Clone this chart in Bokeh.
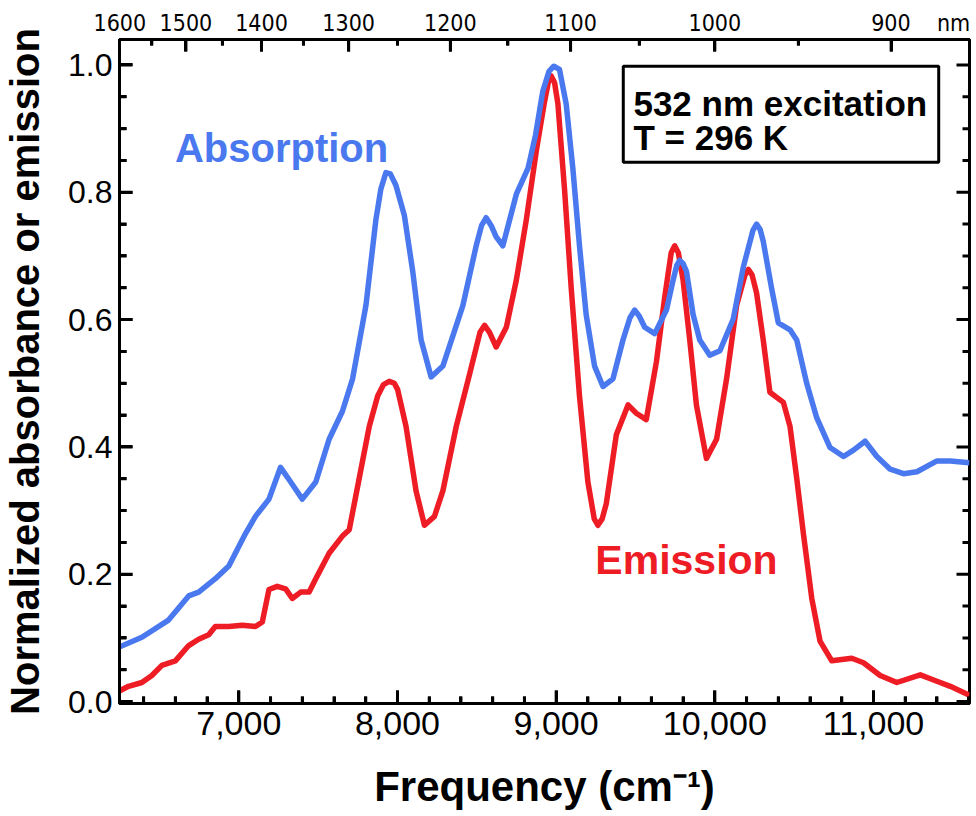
from bokeh.plotting import figure
from bokeh.models import (LinearAxis, FixedTicker, NumeralTickFormatter, CustomJSTickFormatter,
                          Range1d, Label, BoxAnnotation, SingleIntervalTicker, ColumnDataSource)
from bokeh.embed import file_html
from bokeh.resources import INLINE

# ---- data ----
abs_freq = [6250, 6389, 6557, 6684, 6747, 6852, 6937, 7042, 7105, 7190, 7263, 7327, 7400,
            7485, 7569, 7653, 7717, 7801, 7864, 7895, 7927, 7955, 7990, 8043, 8096, 8149,
            8212, 8286, 8412, 8496, 8530, 8559, 8590, 8622, 8664, 8749, 8823, 8870, 8916,
            8955, 8985, 9021, 9063, 9105, 9147, 9189, 9242, 9295, 9358, 9421, 9465, 9495,
            9525, 9558, 9621, 9695, 9737, 9760, 9779, 9800, 9821, 9863, 9905, 9968, 10032,
            10116, 10179, 10240, 10263, 10285, 10305, 10358, 10400, 10474, 10516, 10579,
            10642, 10726, 10811, 10874, 10947, 11021, 11105, 11189, 11274, 11400, 11484, 11605]
abs_val = [0.086, 0.101, 0.128, 0.166, 0.172, 0.193, 0.213, 0.264, 0.291, 0.318, 0.368, 0.345,
           0.318, 0.345, 0.412, 0.456, 0.507, 0.622, 0.757, 0.805, 0.831, 0.829, 0.811, 0.764,
           0.676, 0.568, 0.510, 0.527, 0.622, 0.716, 0.748, 0.760, 0.748, 0.730, 0.716, 0.797,
           0.838, 0.890, 0.959, 0.990, 0.998, 0.993, 0.939, 0.838, 0.716, 0.608, 0.527, 0.495,
           0.507, 0.568, 0.603, 0.615, 0.605, 0.588, 0.578, 0.615, 0.662, 0.685, 0.693, 0.688,
           0.676, 0.608, 0.568, 0.544, 0.551, 0.601, 0.682, 0.740, 0.750, 0.742, 0.723, 0.649,
           0.595, 0.584, 0.568, 0.500, 0.446, 0.399, 0.385, 0.395, 0.409, 0.385, 0.365, 0.358,
           0.361, 0.378, 0.378, 0.375]

emi_freq = [6250, 6305, 6389, 6452, 6515, 6600, 6684, 6747, 6810, 6852, 6937, 7021, 7105,
            7148, 7190, 7242, 7295, 7337, 7390, 7443, 7485, 7569, 7653, 7696, 7759, 7822,
            7875, 7912, 7948, 7980, 8001, 8054, 8117, 8170, 8233, 8286, 8370, 8454, 8520,
            8549, 8580, 8622, 8686, 8749, 8812, 8875, 8925, 8950, 8968, 8990, 9011, 9053,
            9095, 9147, 9200, 9240, 9263, 9290, 9316, 9379, 9453, 9505, 9568, 9632, 9684,
            9725, 9747, 9770, 9800, 9842, 9884, 9947, 10011, 10074, 10137, 10190, 10211,
            10235, 10263, 10305, 10347, 10432, 10474, 10516, 10558, 10611, 10663, 10737,
            10863, 10937, 11042, 11147, 11295, 11379, 11484, 11605]
emi_val = [0.017, 0.024, 0.030, 0.041, 0.057, 0.064, 0.088, 0.098, 0.105, 0.118, 0.118, 0.120,
           0.118, 0.125, 0.176, 0.181, 0.177, 0.162, 0.172, 0.172, 0.193, 0.233, 0.260, 0.270,
           0.351, 0.432, 0.480, 0.498, 0.503, 0.500, 0.490, 0.432, 0.331, 0.277, 0.291, 0.331,
           0.432, 0.514, 0.580, 0.591, 0.580, 0.557, 0.588, 0.662, 0.757, 0.865, 0.940, 0.972,
           0.983, 0.972, 0.939, 0.804, 0.649, 0.480, 0.345, 0.287, 0.277, 0.287, 0.311, 0.419,
           0.466, 0.453, 0.443, 0.534, 0.635, 0.705, 0.716, 0.705, 0.662, 0.568, 0.466, 0.382,
           0.412, 0.507, 0.622, 0.670, 0.679, 0.670, 0.642, 0.568, 0.486, 0.470, 0.432, 0.351,
           0.264, 0.162, 0.095, 0.064, 0.068, 0.061, 0.041, 0.030, 0.042, 0.034, 0.024, 0.010]

x_major = [7000, 8000, 9000, 10000, 11000]
y_major = [0.0, 0.2, 0.4, 0.6, 0.8, 1.0]
top_nm_major = [1600, 1500, 1400, 1300, 1200, 1100, 1000, 900]
top_nm_minor = [1550, 1450, 1350, 1250, 1150, 1050, 950]

BLUE = "#4a78ee"
RED = "#ee1c24"
FONT = "Liberation Sans"
NARROW = "'Liberation Sans Narrow', 'DejaVu Sans Condensed', 'Liberation Sans', sans-serif"

X0, X1 = 6248, 11605
Y0, Y1 = -0.003, 1.04
W, H = 972, 812
BL, BR, BT, BB = 119, 3, 39, 106
MAJ, MIN, TICK_W = 13, 7, 3

p = figure(width=W, height=H, output_backend="svg", toolbar_location=None,
           x_range=Range1d(X0, X1), y_range=Range1d(Y0, Y1),
           min_border_left=BL, min_border_right=BR, min_border_top=BT, min_border_bottom=BB)
p.grid.visible = False
p.outline_line_color = "black"
p.outline_line_width = 3
p.background_fill_color = "white"
p.border_fill_color = "white"

def style_axis(ax, tin=MAJ, mtin=MIN):
    ax.axis_line_color = "black"
    ax.axis_line_width = 3
    ax.major_tick_line_color = "black"
    ax.minor_tick_line_color = "black"
    ax.major_tick_line_width = TICK_W
    ax.minor_tick_line_width = TICK_W
    ax.major_tick_in = tin
    ax.major_tick_out = 0
    ax.minor_tick_in = mtin
    ax.minor_tick_out = 0

# bottom axis
xa = p.xaxis[0]
xa.ticker = SingleIntervalTicker(interval=1000, num_minor_ticks=5)
xa.formatter = NumeralTickFormatter(format="0,0")
style_axis(xa)
xa.major_label_text_font = FONT
xa.major_label_text_font_size = "34px"
xa.major_label_text_color = "black"
xa.major_label_standoff = 8
xa.axis_label = "Frequency (cm\u207b\u00b9)"
xa.axis_label_text_font = FONT
xa.axis_label_text_font_size = "42px"
xa.axis_label_text_font_style = "bold"
xa.axis_label_text_color = "black"
xa.axis_label_standoff = 25

# left axis
ya = p.yaxis[0]
ya.ticker = SingleIntervalTicker(interval=0.2, num_minor_ticks=4)
ya.formatter = NumeralTickFormatter(format="0.0")
style_axis(ya)
ya.major_label_text_font = FONT
ya.major_label_text_font_size = "32px"
ya.major_label_text_color = "black"
ya.major_label_standoff = 7
ya.axis_label = "Normalized absorbance or emission"
ya.axis_label_text_font = FONT
ya.axis_label_text_font_size = "40px"
ya.axis_label_text_font_style = "bold"
ya.axis_label_text_color = "black"
ya.axis_label_standoff = 18

# top axis in nm
nbsp = "\u00a0"
ta = LinearAxis(ticker=FixedTicker(ticks=[1e7 / n for n in top_nm_major],
                                   minor_ticks=[1e7 / n for n in top_nm_minor]),
                formatter=CustomJSTickFormatter(
                    args=dict(last=top_nm_major[-1], pre=nbsp * 9, post=nbsp * 4 + "nm"),
                    code="const nm = Math.round(1e7/tick);"
                         "return nm == last ? pre + nm + post : nm.toString();"))
style_axis(ta, MAJ - 1, MIN - 1)
ta.major_label_text_font = NARROW
ta.major_label_text_font_size = "23px"
ta.major_label_text_color = "black"
ta.major_label_standoff = 4
p.add_layout(ta, "above")

# inward tick marks as glyphs (computed from the tick lists)
frame_w = W - BL - BR
frame_h = H - BT - BB
dx = (X1 - X0) / frame_w   # data units per pixel in x
dy = (Y1 - Y0) / frame_h   # data units per pixel in y
x_minor = [v for v in range(6400, 11601, 200) if v not in x_major]
y_minor = [round(0.05 * k, 2) for k in range(21) if round(0.05 * k, 2) not in y_major]
top_major = [1e7 / n for n in top_nm_major[1:]]
top_minor = [1e7 / n for n in top_nm_minor]

sx0, sy0, sx1, sy1 = [], [], [], []
def add_x_ticks(vals, length_px, at_bottom):
    for v in vals:
        sx0.append(v); sx1.append(v)
        if at_bottom:
            sy0.append(Y0); sy1.append(Y0 + length_px * dy)
        else:
            sy0.append(Y1); sy1.append(Y1 - length_px * dy)

def add_y_ticks(vals, length_px, at_left):
    for v in vals:
        sy0.append(v); sy1.append(v)
        if at_left:
            sx0.append(X0); sx1.append(X0 + length_px * dx)
        else:
            sx0.append(X1); sx1.append(X1 - length_px * dx)

add_x_ticks(x_major, MAJ, True)
add_x_ticks(x_minor, MIN, True)
add_x_ticks(top_major, MAJ - 1, False)
add_x_ticks(top_minor, MIN - 1, False)
add_y_ticks(y_major, MAJ, True)
add_y_ticks(y_minor, MIN, True)
add_y_ticks(y_major, MAJ, False)
add_y_ticks(y_minor, MIN, False)
tick_src = ColumnDataSource(dict(x0=sx0, y0=sy0, x1=sx1, y1=sy1))
p.segment(x0="x0", y0="y0", x1="x1", y1="y1", source=tick_src,
          line_color="#000000", line_width=TICK_W, line_alpha=1.0)

# curves
p.line(emi_freq, emi_val, line_color=RED, line_width=5.5, line_join="round")
p.line(abs_freq, abs_val, line_color=BLUE, line_width=5.5, line_join="round")

# annotations
p.add_layout(Label(x=6597, y=0.869, text="Absorption", text_font=FONT, text_font_size="40px",
                   text_font_style="bold", text_color=BLUE, text_baseline="middle"))
p.add_layout(Label(x=9247, y=0.222, text="Emission", text_font=FONT, text_font_size="41px",
                   text_font_style="bold", text_color=RED, text_baseline="middle"))
p.add_layout(BoxAnnotation(left=9423, right=11411, top=0.998, bottom=0.847,
                           fill_color="white", fill_alpha=1.0, line_color="black",
                           line_width=3, line_alpha=1.0))
p.add_layout(Label(x=9487, y=0.939, text="532 nm excitation", text_font=FONT,
                   text_font_size="35px", text_font_style="bold", text_color="black",
                   text_baseline="middle"))
p.add_layout(Label(x=9487, y=0.886, text="T = 296 K", text_font=FONT,
                   text_font_size="35px", text_font_style="bold", text_color="black",
                   text_baseline="middle"))

open("out.html", "w").write(file_html(p, INLINE))
